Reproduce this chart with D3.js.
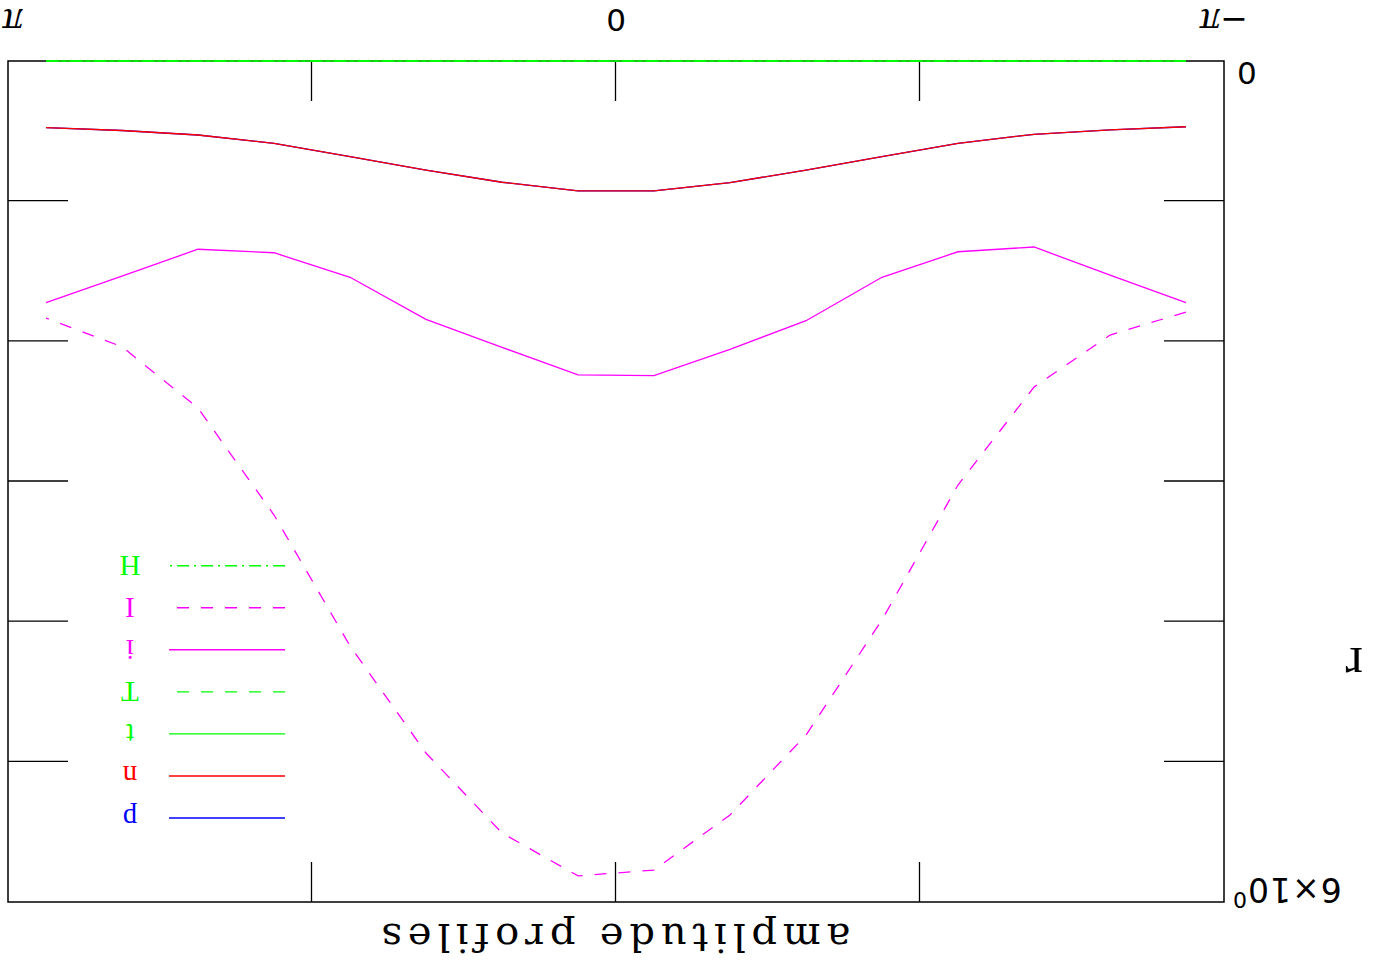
<!DOCTYPE html>
<html><head><meta charset="utf-8">
<script src="https://cdn.jsdelivr.net/npm/d3@7"></script>
<style>html,body{margin:0;padding:0;background:#fff;} svg{display:block;} text{font-variant-ligatures:none;font-feature-settings:"liga" 0;}</style>
</head><body>
<svg id="chart" width="1374" height="969"></svg>
<script>
// angle positions (radians)
const theta = [-2.945, -2.553, -2.160, -1.767, -1.374, -0.982, -0.589, -0.196,
                0.196,  0.589,  0.982,  1.374,  1.767,  2.160,  2.553,  2.945];
// amplitude profiles
const ampp = [0.469, 0.492, 0.523, 0.587, 0.683, 0.778, 0.868, 0.927, 0.926, 0.865, 0.778, 0.683, 0.587, 0.528, 0.496, 0.476];
const ampn = [0.469, 0.492, 0.523, 0.587, 0.683, 0.778, 0.868, 0.927, 0.926, 0.865, 0.778, 0.683, 0.587, 0.528, 0.496, 0.476];
const ampt = [0, 0, 0, 0, 0, 0, 0, 0, 0, 0, 0, 0, 0, 0, 0, 0];
const ampT = [0, 0, 0, 0, 0, 0, 0, 0, 0, 0, 0, 0, 0, 0, 0, 0];
const ampi = [1.724, 1.527, 1.327, 1.361, 1.543, 1.853, 2.057, 2.245, 2.240, 2.043, 1.843, 1.543, 1.368, 1.343, 1.534, 1.724];
const ampI = [1.791, 1.955, 2.326, 3.025, 3.988, 4.809, 5.379, 5.772, 5.814, 5.508, 4.937, 4.174, 3.239, 2.476, 2.038, 1.834];
const ampH = [0, 0, 0, 0, 0, 0, 0, 0, 0, 0, 0, 0, 0, 0, 0, 0];
const seriesNames = ["p", "n", "t", "T", "i", "I", "H"];
const xTickValues = [-Math.PI / 2, 0, Math.PI / 2];
const xLabelValues = [-Math.PI, 0, Math.PI];
const yTickValues = [1, 2, 3, 4, 5];
const titleText = "amplitude profiles";
const yAxisTitle = "r";

const W = 1374, H = 969;
const svg = d3.select("#chart");
svg.append("rect").attr("width", W).attr("height", H).attr("fill", "#fff");
// whole figure is shown rotated by 180 degrees
const g = svg.append("g").attr("transform", `rotate(180 ${W / 2} ${H / 2})`);

const x = d3.scaleLinear().domain([-Math.PI, Math.PI]).range([150, 1366]);
const y = d3.scaleLinear().domain([0, 6]).range([908, 67]);

const seriesTable = [
  { name: "p", values: ampp, color: "#0000ff", dash: null },
  { name: "n", values: ampn, color: "#ff0000", dash: null },
  { name: "t", values: ampt, color: "#00ff00", dash: null },
  { name: "T", values: ampT, color: "#00ff00", dash: "12,12" },
  { name: "i", values: ampi, color: "#ff00ff", dash: null },
  { name: "I", values: ampI, color: "#ff00ff", dash: "12,12" },
  { name: "H", values: ampH, color: "#00ff00", dash: "12,5,2,5" }
];

// frame
g.append("rect").attr("x", 150).attr("y", 67).attr("width", 1216).attr("height", 841)
  .attr("fill", "none").attr("stroke", "#000").attr("stroke-width", 1.5);

function styleAxis(sel) {
  sel.select(".domain").remove();
  sel.selectAll(".tick line").attr("stroke", "#000").attr("stroke-width", 1.3);
  sel.selectAll(".tick text").remove();
}
g.append("g").attr("transform", "translate(0,908)")
  .call(d3.axisBottom(x).tickValues(xTickValues).tickSize(-40)).call(styleAxis);
g.append("g").attr("transform", "translate(0,67)")
  .call(d3.axisTop(x).tickValues(xTickValues).tickSize(-40)).call(styleAxis);
g.append("g").attr("transform", "translate(150,0)")
  .call(d3.axisLeft(y).tickValues(yTickValues).tickSize(-60)).call(styleAxis);
g.append("g").attr("transform", "translate(1366,0)")
  .call(d3.axisRight(y).tickValues(yTickValues).tickSize(-60)).call(styleAxis);

// x labels
const xl = g.append("g").attr("font-size", 31).attr("fill", "#000").attr("text-anchor", "middle");
xLabelValues.forEach(v => {
  const px = v > 0 ? x(v) - 5 : x(v);
  const t = xl.append("text").attr("x", px).attr("y", 960);
  if (v === 0) {
    t.attr("font-family", "DejaVu Sans").text("0");
  } else {
    if (v < 0) t.append("tspan").attr("font-family", "DejaVu Sans").attr("font-size", 33).text("−");
    t.append("tspan").attr("font-family", "Liberation Serif").attr("font-style", "italic").attr("font-size", 40).text("π");
  }
});

// y labels
g.append("text").attr("x", 137).attr("y", y(0) - 1).attr("text-anchor", "end")
  .attr("font-family", "DejaVu Sans").attr("font-size", 31).text("0");
const y6 = g.append("text").attr("x", 141).attr("y", y(6) + 24).attr("text-anchor", "end")
  .attr("font-family", "DejaVu Sans").attr("font-size", 33);
y6.append("tspan").attr("letter-spacing", 1).text("6×10");
y6.append("tspan").attr("font-size", 22).attr("dy", -14).text("0");

// titles
g.append("text").attr("x", 758).attr("y", 45).attr("text-anchor", "middle")
  .attr("font-family", "DejaVu Serif").attr("font-size", 40)
  .attr("textLength", 469).attr("lengthAdjust", "spacing").text(titleText);
g.append("text").attr("x", 20).attr("y", 321).attr("text-anchor", "middle")
  .attr("font-family", "Liberation Serif").attr("font-size", 52).text(yAxisTitle);

// lines
const line = d3.line().x((d, i) => x(theta[i])).y(d => y(d));
g.append("g").selectAll("path").data(seriesTable).join("path")
  .attr("d", s => line(s.values))
  .attr("fill", "none")
  .attr("stroke", s => s.color)
  .attr("stroke-width", 1.3)
  .attr("stroke-dasharray", s => s.dash);

// legend
const leg = g.append("g");
seriesTable.forEach((s, k) => {
  const ly = 151 + k * 42.05;
  leg.append("line").attr("x1", 1089).attr("x2", 1205).attr("y1", ly).attr("y2", ly)
    .attr("stroke", s.color).attr("stroke-width", 1.4).attr("stroke-dasharray", s.dash);
  leg.append("text").attr("x", 1244).attr("y", ly + 9.5).attr("text-anchor", "middle")
    .attr("font-family", "Liberation Serif").attr("font-size", 29)
    .attr("fill", s.color).text(seriesNames[k]);
});
</script>
</body></html>
